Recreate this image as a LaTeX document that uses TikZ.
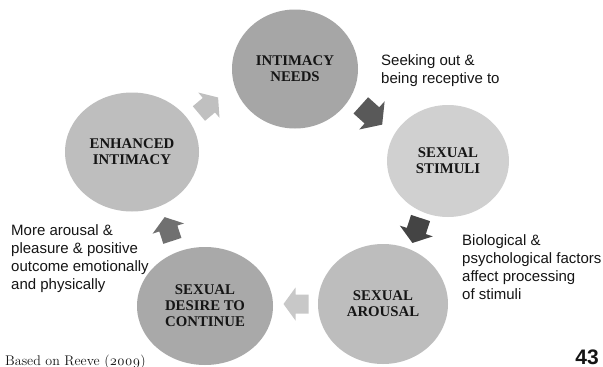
\documentclass[tikz,border=0pt]{standalone}
\usepackage{fontspec}
\setmainfont{Liberation Serif}
\newfontfamily\notefont{Liberation Sans}
\newfontfamily\creditfont{Latin Modern Roman}[Numbers=OldStyle]
\usetikzlibrary{shapes.geometric,calc}

\definecolor{needsgray}{HTML}{A6A6A6}
\definecolor{stimgray}{HTML}{D0D0D0}
\definecolor{enhgray}{HTML}{BEBEBE}
\definecolor{arousgray}{HTML}{BDBDBD}
\definecolor{desiregray}{HTML}{A9A9A9}
\definecolor{arrowA}{HTML}{595959}
\definecolor{arrowB}{HTML}{444444}
\definecolor{arrowC}{HTML}{C8C8C8}
\definecolor{arrowD}{HTML}{707070}
\definecolor{arrowE}{HTML}{C0C0C0}
\definecolor{inkgray}{HTML}{151515}

\begin{document}
\begin{tikzpicture}[x=1pt,y=-1pt,
  stage/.style={ellipse, inner sep=0pt, align=center, text=inkgray,
    font=\bfseries\fontsize{14.8}{16}\selectfont},
  note/.style={anchor=north west, align=left, inner sep=0pt, text=inkgray,
    font=\notefont\fontsize{15}{18}\selectfont},
  cyclearrow/.pic={\fill[#1] (-12.5,-9.5) -- (0.5,-9.5) -- (0.5,-16.5)
    -- (12.5,0) -- (0.5,16.5) -- (0.5,9.5) -- (-12.5,9.5) -- cycle;}
]
\useasboundingbox (0,0) rectangle (603,367);
\clip (0,0) rectangle (603,367);
\fill[white] (0,0) rectangle (603,367);

% stages of the cycle
\node[stage, fill=needsgray, minimum width=126pt, minimum height=119pt]
  (needs) at (295,69) {INTIMACY\\NEEDS};
\node[stage, fill=stimgray, minimum width=122pt, minimum height=112pt]
  (stimuli) at (448,161) {SEXUAL\\STIMULI};
\node[stage, fill=arousgray, minimum width=130pt, minimum height=120pt]
  (arousal) at (383,304) {SEXUAL\\AROUSAL};
\node[stage, fill=desiregray, minimum width=136pt, minimum height=118pt]
  (desire) at (205,306) {SEXUAL\\DESIRE TO\\CONTINUE};
\node[stage, fill=enhgray, minimum width=134pt, minimum height=119pt]
  (enhanced) at (132,152) {ENHANCED\\INTIMACY};

% block arrows between neighbouring stages
\pic[rotate=-42, scale=1.15] at ($(needs)!0.5!(stimuli)$) {cyclearrow=arrowA};
\pic[rotate=-108, scale=1.05] at ($(stimuli)!0.5!(arousal)+(1,-2)$) {cyclearrow=arrowB};
\pic[rotate=180] at ($(arousal)!0.5!(desire)+(2,-1)$) {cyclearrow=arrowC};
\pic[rotate=108] at ($(desire)!0.5!(enhanced)$) {cyclearrow=arrowD};
\pic[rotate=40] at ($(enhanced)!0.5!(needs)+(-5,-5)$) {cyclearrow=arrowE};

% explanatory notes
\node[note] (seek) at (381,54) {Seeking out \&\\being receptive to};
\node[note] (bio) at (462,234) {Biological \&\\psychological factors\\affect processing\\of stimuli};
\node[note] (more) at (11,224) {More arousal \&\\pleasure \& positive\\outcome emotionally\\and physically};

% source and page number
\node[anchor=base west, inner sep=0pt, text=inkgray,
  font=\creditfont\fontsize{14}{16}\selectfont] (credit) at (5,365) {Based on Reeve (2009)};
\node[anchor=base east, inner sep=0pt, text=inkgray,
  font=\notefont\bfseries\fontsize{21}{24}\selectfont] (page) at (599,364) {43};
\end{tikzpicture}
\end{document}
